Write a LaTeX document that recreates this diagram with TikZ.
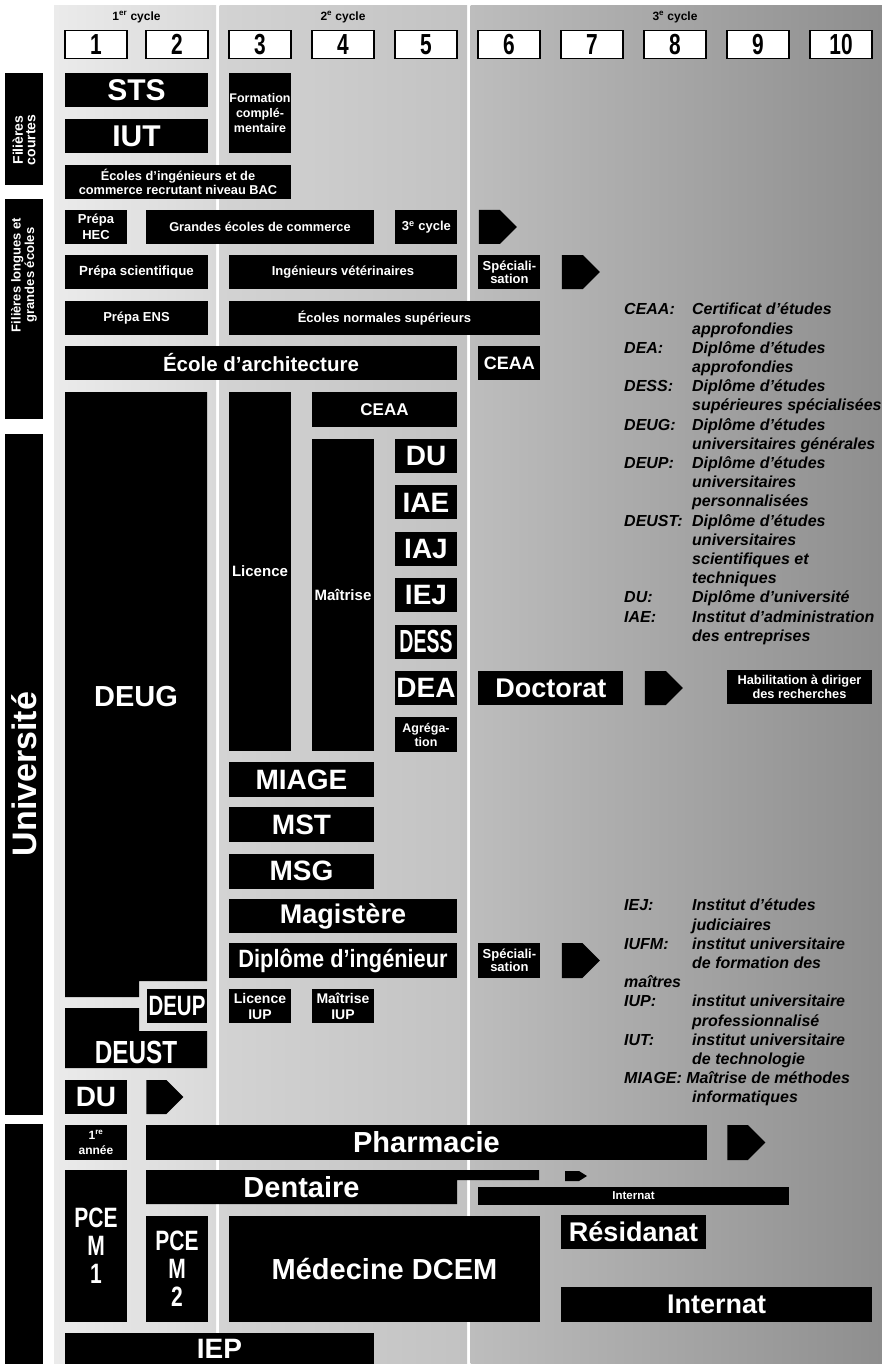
\documentclass[tikz,border=0pt]{standalone}
\usepackage{fontspec}
\setmainfont{Liberation Sans}
\usepackage{graphicx}
\usepackage{tikz}
\usetikzlibrary{positioning,shapes.symbols}
\definecolor{fondA}{HTML}{EBEBEB}
\definecolor{fondB}{HTML}{D9D9D9}
\definecolor{fondC}{HTML}{D3D3D3}
\definecolor{fondD}{HTML}{C2C2C2}
\definecolor{fondE}{HTML}{BDBDBD}
\definecolor{fondF}{HTML}{8E8E8E}
\newcommand{\fsz}[2]{\fontsize{#1}{#2}\selectfont\bfseries}
\newcommand{\etroit}[2]{\scalebox{#1}[1]{#2}}
\newcommand{\abr}[1]{\makebox[68pt][l]{#1}}
\newcommand{\suite}{\hspace*{68pt}}
\tikzstyle{blk} = [rectangle, fill=black, text=white, inner sep=0pt, align=center]
\tikzstyle{yearbox} = [rectangle, draw=black, line width=1.5pt, fill=white, minimum width=62pt, minimum height=28pt, inner sep=0pt, font=\fsz{29}{29}]
\tikzstyle{pointe} = [signal, signal to=east, signal pointer angle=90, fill=black, inner sep=0pt, minimum width=38pt, minimum height=34pt]
\tikzstyle{sidebar} = [rectangle, fill=black, inner sep=0pt, minimum width=38pt]
\tikzstyle{sidetext} = [text=white, rotate=90, align=center, inner sep=0pt]
\tikzstyle{legende} = [anchor=north west, inner sep=0pt, align=left, font=\fontsize{16}{19.2}\selectfont\bfseries\itshape]

\begin{document}
\begin{tikzpicture}[x=1pt, y=-1pt]
\useasboundingbox (0,0) rectangle (882,1364);

% Fond des trois cycles
\shade[left color=fondA, right color=fondB] (54,6) rectangle (216,1364);
\shade[left color=fondC, right color=fondD] (219.5,6) rectangle (467,1364);
\shade[left color=fondE, right color=fondF] (470.5,6) rectangle (882,1364);

% Cycles et années
\node[font=\fsz{12}{12}] (cycle1) at (136.5,17) {1\textsuperscript{er} cycle};
\node[font=\fsz{12}{12}] (cycle2) at (343,17) {2\textsuperscript{e} cycle};
\node[font=\fsz{12}{12}] (cycle3) at (675,17) {3\textsuperscript{e} cycle};
\foreach \n/\x in {1/96,2/177,3/260,4/343,5/426,6/509,7/592,8/675,9/758,10/841}
  \node[yearbox] (an\n) at (\x,44.5) {\etroit{0.72}{\n}};

% Bandeaux de gauche
\node[sidebar, minimum height=112pt] (courtes) at (24,129) {};
\node[sidetext, font=\fsz{14}{12.5}] (courtes-txt) at (24,140) {Filières\\courtes};
\node[sidebar, minimum height=220pt] (longues) at (24,309) {};
\node[sidetext, font=\fsz{13}{12}] (longues-txt) at (24,275) {Filières longues et\\grandes écoles};
\node[sidebar, minimum height=681pt] (univ) at (24,774.5) {};
\node[sidetext, font=\fsz{34}{34}] (univ-txt) at (24,774) {Université};
\node[sidebar, minimum height=240pt] (sante) at (24,1244) {};

% Filières courtes
\node[blk, minimum width=143pt, minimum height=34pt, font=\fsz{30}{30}] (sts) at (136.5,90) {STS};
\node[blk, minimum width=143pt, minimum height=34pt, font=\fsz{30}{30}, below=12pt of sts] (iut) {IUT};
\node[blk, minimum width=62pt, minimum height=80pt, font=\fsz{12.5}{15}] (formcomp) at (260,113) {Formation\\complé-\\mentaire};
\node[blk, minimum width=226pt, minimum height=34pt, font=\fsz{12.8}{14}] (ecolesbac) at (178,182) {Écoles d’ingénieurs et de\\commerce recrutant niveau BAC};

% Filières longues et grandes écoles
\node[blk, minimum width=62pt, minimum height=34pt, font=\fsz{13}{15.6}] (prepahec) at (96,227) {Prépa\\HEC};
\node[blk, minimum width=228pt, minimum height=34pt, font=\fsz{12.8}{14}] (grandesecoles) at (260,227) {Grandes écoles de commerce};
\node[blk, minimum width=62pt, minimum height=34pt, font=\fsz{13}{14}, right=21pt of grandesecoles] (cycle3box) {3\textsuperscript{e} cycle};
\node[pointe, right=21pt of cycle3box] (fleche1) {};
\node[blk, minimum width=143pt, minimum height=34pt, font=\fsz{13.3}{14}] (prepasci) at (136.5,272) {Prépa scientifique};
\node[blk, minimum width=228pt, minimum height=34pt, font=\fsz{13}{14}] (veto) at (343,272) {Ingénieurs vétérinaires};
\node[blk, minimum width=62pt, minimum height=34pt, font=\fsz{13}{12.7}, right=21pt of veto] (specia1) {Spéciali-\\sation};
\node[pointe, right=21pt of specia1] (fleche2) {};
\node[blk, minimum width=143pt, minimum height=34pt, font=\fsz{13}{14}] (prepaens) at (136.5,318) {Prépa ENS};
\node[blk, minimum width=311pt, minimum height=34pt, font=\fsz{13}{14}] (ens) at (384.5,318) {Écoles normales supérieurs};
\node[blk, minimum width=392pt, minimum height=34pt, font=\fsz{20.5}{20.5}] (archi) at (261,363) {École d’architecture};
\node[blk, minimum width=62pt, minimum height=34pt, font=\fsz{18}{18}, right=21pt of archi] (ceaa1) {CEAA};

% Université
\fill (65,392) -- (207,392) -- (207,981) -- (139,981) -- (139,997) -- (65,997) -- cycle;
\node[text=white, font=\fsz{29}{29}] (deug) at (136,697) {DEUG};
\node[blk, minimum width=62pt, minimum height=359pt, font=\fsz{15}{15}] (licence) at (260,571.5) {Licence};
\node[blk, minimum width=145pt, minimum height=35pt, font=\fsz{17}{17}] (ceaa2) at (384.5,409.5) {CEAA};
\node[blk, minimum width=62pt, minimum height=312pt, font=\fsz{15}{15}] (maitrise) at (343,595) {Maîtrise};
\node[blk, minimum width=62pt, minimum height=34pt, font=\fsz{28}{28}] (du1) at (426,456) {DU};
\node[blk, minimum width=62pt, minimum height=34pt, font=\fsz{28}{28}, below=12pt of du1] (iae) {IAE};
\node[blk, minimum width=62pt, minimum height=34pt, font=\fsz{28}{28}, below=12pt of iae] (iaj) {IAJ};
\node[blk, minimum width=62pt, minimum height=34pt, font=\fsz{28}{28}, below=12pt of iaj] (iej) {IEJ};
\node[blk, minimum width=62pt, minimum height=34pt, font=\fsz{32}{32}, below=12pt of iej] (dess) {\etroit{0.61}{DESS}};
\node[blk, minimum width=62pt, minimum height=34pt, font=\fsz{28}{28}, below=12pt of dess] (dea) {DEA};
\node[blk, minimum width=62pt, minimum height=35pt, font=\fsz{12.5}{14}, below=12pt of dea] (agreg) {Agréga-\\tion};
\node[blk, minimum width=145pt, minimum height=34pt, font=\fsz{27}{27}, right=21pt of dea] (doctorat) {Doctorat};
\node[pointe, right=21pt of doctorat] (fleche3) {};
\node[blk, minimum width=145pt, minimum height=34pt, font=\fsz{12.8}{13.5}] (hdr) at (799.5,687) {Habilitation à diriger\\des recherches};
\node[blk, minimum width=145pt, minimum height=35pt, font=\fsz{28}{28}] (miage) at (301.5,779.5) {MIAGE};
\node[blk, minimum width=145pt, minimum height=35pt, font=\fsz{28}{28}, below=10pt of miage] (mst) {MST};
\node[blk, minimum width=145pt, minimum height=35pt, font=\fsz{28}{28}, below=11pt of mst] (msg) {MSG};
\node[blk, minimum width=228pt, minimum height=34pt, font=\fsz{27}{27}] (magistere) at (343,916) {Magistère};
\node[blk, minimum width=228pt, minimum height=35pt, font=\fsz{25}{25}] (ingenieur) at (343,960.5) {\etroit{0.87}{Diplôme d’ingénieur}};
\node[blk, minimum width=62pt, minimum height=35pt, font=\fsz{13}{12.7}, right=21pt of ingenieur] (specia2) {Spéciali-\\sation};
\node[pointe, minimum height=35pt, right=21pt of specia2] (fleche4) {};
\node[blk, minimum width=62pt, minimum height=34pt, font=\fsz{14}{16}] (liciup) at (260,1006) {Licence\\IUP};
\node[blk, minimum width=62pt, minimum height=34pt, font=\fsz{14}{16}] (maiiup) at (343,1006) {Maîtrise\\IUP};
\node[blk, minimum width=60pt, minimum height=34pt, font=\fsz{28}{28}] (deup) at (177,1006) {\etroit{0.73}{DEUP}};
\fill (65,1008) -- (139,1008) -- (139,1031) -- (207,1031) -- (207,1068) -- (65,1068) -- cycle;
\node[text=white, font=\fsz{32}{32}] (deust) at (136,1052) {\etroit{0.76}{DEUST}};
\node[blk, minimum width=62pt, minimum height=34pt, font=\fsz{28}{28}] (du2) at (96,1097) {DU};
\node[pointe, minimum width=37pt, right=19pt of du2] (fleche5) {};

% Santé
\node[blk, minimum width=62pt, minimum height=35pt, font=\fsz{12}{15}] (annee1) at (96,1142.5) {1\textsuperscript{re}\\année};
\node[blk, minimum width=561pt, minimum height=35pt, font=\fsz{29}{29}] (pharma) at (426.5,1142.5) {Pharmacie};
\node[pointe, minimum height=35pt, right=20pt of pharma] (fleche6) {};
\fill (146,1170) -- (539,1170) -- (539,1180) -- (457,1180) -- (457,1204) -- (146,1204) -- cycle;
\node[text=white, font=\fsz{29}{29}] (dentaire) at (301.5,1187) {Dentaire};
\node[pointe, signal pointer angle=64, minimum width=22pt, minimum height=10pt] (fleche7) at (572,1176) {};
\node[blk, minimum width=311pt, minimum height=18pt, font=\fsz{11.5}{11.5}] (internat1) at (633.5,1196) {Internat};
\node[blk, minimum width=62pt, minimum height=152pt, font=\fsz{28}{28}] (pcem1) at (96,1246) {\etroit{0.75}{PCE}\\\etroit{0.75}{M}\\\etroit{0.75}{1}};
\node[blk, minimum width=62pt, minimum height=106pt, font=\fsz{28}{28}] (pcem2) at (177,1269) {\etroit{0.75}{PCE}\\\etroit{0.75}{M}\\\etroit{0.75}{2}};
\node[blk, minimum width=311pt, minimum height=106pt, font=\fsz{29}{29}] (dcem) at (384.5,1269) {Médecine DCEM};
\node[blk, minimum width=145pt, minimum height=34pt, font=\fsz{27}{27}] (residanat) at (633.5,1232) {Résidanat};
\node[blk, minimum width=311pt, minimum height=35pt, font=\fsz{27}{27}] (internat2) at (716.5,1304.5) {Internat};
\node[blk, minimum width=309pt, minimum height=31pt, font=\fsz{28}{28}] (iep) at (219.5,1348.5) {IEP};

% Légendes
\node[legende] (leg1) at (624,303) {\abr{CEAA:}Certificat d’études\\\suite approfondies\\
\abr{DEA:}Diplôme d’études\\\suite approfondies\\
\abr{DESS:}Diplôme d’études\\\suite supérieures spécialisées\\
\abr{DEUG:}Diplôme d’études\\\suite universitaires générales\\
\abr{DEUP:}Diplôme d’études\\\suite universitaires\\\suite personnalisées\\
\abr{DEUST:}Diplôme d’études\\\suite universitaires\\\suite scientifiques et\\\suite techniques\\
\abr{DU:}Diplôme d’université\\
\abr{IAE:}Institut d’administration\\\suite des entreprises};
\node[legende] (leg2) at (624,899) {\abr{IEJ:}Institut d’études\\\suite judiciaires\\
\abr{IUFM:}institut universitaire\\\suite de formation des\\
maîtres\\
\abr{IUP:}institut universitaire\\\suite professionnalisé\\
\abr{IUT:}institut universitaire\\\suite de technologie\\
MIAGE: Maîtrise de méthodes\\\suite informatiques};
\end{tikzpicture}
\end{document}
